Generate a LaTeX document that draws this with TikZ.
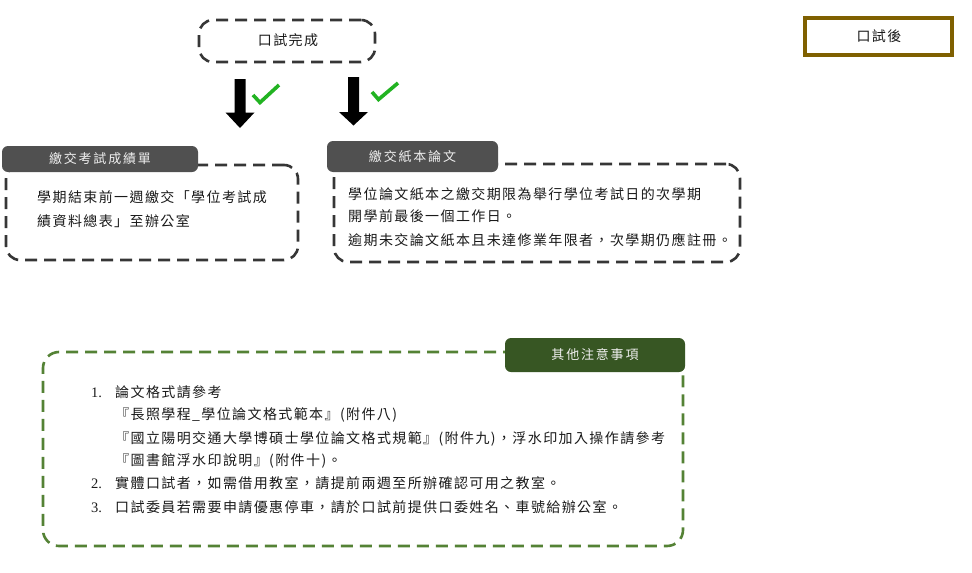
\documentclass[tikz,border=0pt]{standalone}
\usepackage{fontspec}
\newfontfamily\cjk[LetterSpace=10]{Noto Sans CJK TC}
\newfontfamily\cjkh[LetterSpace=14]{Noto Sans CJK TC}
\newfontfamily\numf{Liberation Serif}
\definecolor{dashgray}{HTML}{363636}
\definecolor{tabgray}{HTML}{505050}
\definecolor{dgreen}{HTML}{548235}
\definecolor{tabgreen}{HTML}{375623}
\definecolor{brownc}{HTML}{7F6000}
\definecolor{checkg}{HTML}{22B322}
\definecolor{textc}{HTML}{1A1A1A}
\begin{document}
\begin{tikzpicture}[x=1pt,y=-1pt,
  dbox/.style={draw=dashgray, line width=2.6pt, dash pattern=on 12pt off 7pt, rounded corners=14pt, fill=white, inner sep=0pt},
  gbox/.style={draw=dgreen, line width=2.6pt, dash pattern=on 12pt off 7pt, rounded corners=16pt, fill=white, inner sep=0pt},
  tabbox/.style={fill=tabgray, rounded corners=6pt, text=white!94!black, font=\cjkh\fontsize{13}{15}\selectfont, inner sep=0pt},
  txt/.style={anchor=base west, inner sep=0pt, font=\cjk\fontsize{14}{16}\selectfont, text=textc},
  ctxt/.style={inner sep=0pt, font=\cjk\fontsize{14}{16}\selectfont, text=textc},
  numtxt/.style={anchor=base west, inner sep=0pt, font=\numf\fontsize{14.5}{16}\selectfont, text=textc},
  check/.style={draw=checkg, line width=3.6pt},
  blockarrow/.style={fill=black}
]
\useasboundingbox (0,0) rectangle (972,573);
\fill[white] (0,0) rectangle (972,573);

% top boxes
\node[dbox, minimum width=176pt, minimum height=42pt] (done) at (287,41) {};
\node[ctxt] (donet) at (288,40) {口試完成};
\node[draw=brownc, line width=3.6pt, fill=white, minimum width=147pt, minimum height=37pt, inner sep=0pt] (after) at (878.5,36.5) {};
\node[ctxt] (aftert) at (879,36) {口試後};

% arrows
\fill[blockarrow] (234.5,79) -- (245.5,79) -- (245.5,112.5) -- (254.5,112.5) -- (240,128) -- (225.5,112.5) -- (234.5,112.5) -- cycle;
\fill[blockarrow] (348,77) -- (359,77) -- (359,112) -- (368,112) -- (353.5,125.5) -- (339,112) -- (348,112) -- cycle;
\draw[check] (253,95) -- (260,102.5) -- (279,85);
\draw[check] (372,92) -- (378.5,99.5) -- (398,83);

% box 1
\node[dbox, minimum width=292pt, minimum height=95pt] (b1) at (152,212.5) {};
\node[tabbox, minimum width=196pt, minimum height=26pt] (t1) at (100,159) {繳交考試成績單};
\node[txt] (b1a) at (37,202.5) {學期結束前一週繳交「學位考試成};
\node[txt] (b1b) at (37,226.5) {績資料總表」至辦公室};

% box 2
\node[dbox, minimum width=406pt, minimum height=98pt] (b2) at (537,213) {};
\node[tabbox, minimum width=171pt, minimum height=31pt] (t2) at (412.5,156.5) {繳交紙本論文};
\node[txt] (b2a) at (348,199.5) {學位論文紙本之繳交期限為舉行學位考試日的次學期};
\node[txt] (b2b) at (348,221.5) {開學前最後一個工作日。};
\node[txt] (b2c) at (348,245.5) {逾期未交論文紙本且未達修業年限者，次學期仍應註冊。};

% green box
\node[gbox, minimum width=640pt, minimum height=194pt] (g) at (363,449) {};
\node[tabbox, fill=tabgreen, minimum width=180pt, minimum height=34pt] (tg) at (595,355) {其他注意事項};
\node[numtxt] (n1) at (91,397.5) {1.};
\node[txt] (l1) at (115,397.5) {論文格式請參考};
\node[txt] (l2) at (115,419.5) {『長照學程\_學位論文格式範本』(附件八)};
\node[txt] (l3) at (115,443.5) {『國立陽明交通大學博碩士學位論文格式規範』(附件九)，浮水印加入操作請參考};
\node[txt] (l4) at (115,465.5) {『圖書館浮水印說明』(附件十)。};
\node[numtxt] (n2) at (91,488.5) {2.};
\node[txt] (l5) at (115,488.5) {實體口試者，如需借用教室，請提前兩週至所辦確認可用之教室。};
\node[numtxt] (n3) at (91,512.5) {3.};
\node[txt] (l6) at (115,512.5) {口試委員若需要申請優惠停車，請於口試前提供口委姓名、車號給辦公室。};
\end{tikzpicture}
\end{document}
